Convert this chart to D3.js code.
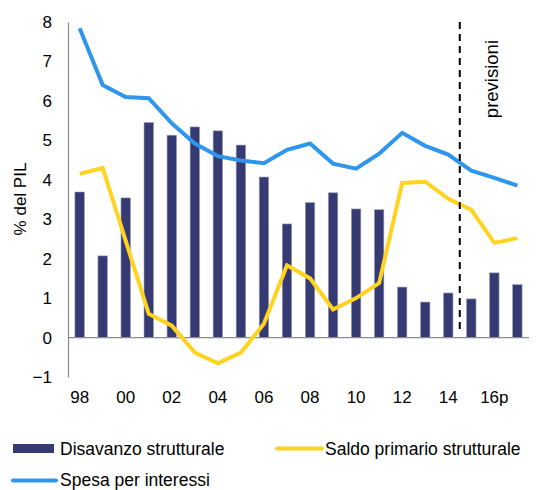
<!DOCTYPE html>
<html>
<head>
<meta charset="utf-8">
<script src="https://cdn.jsdelivr.net/npm/d3@7"></script>
<style>
  body { margin: 0; background: #fff; }
  text { font-family: "Liberation Sans", Arial, sans-serif; fill: #000; }
</style>
</head>
<body>
<svg id="chart" width="538" height="490"></svg>
<script>
const years = ['98','99','00','01','02','03','04','05','06','07','08','09','10','11','12','13','14','15','16','17'];
const tickLabels = {'98':'98','00':'00','02':'02','04':'04','06':'06','08':'08','10':'10','12':'12','14':'14','16':'16p'};
const disavanzo = [3.69,2.07,3.54,5.45,5.13,5.34,5.24,4.88,4.07,2.88,3.42,3.67,3.26,3.24,1.28,0.9,1.13,0.98,1.64,1.34];
const saldoPrimario = [4.15,4.3,2.45,0.6,0.3,-0.38,-0.65,-0.38,0.35,1.83,1.5,0.71,1.0,1.38,3.92,3.95,3.52,3.24,2.4,2.52];
const spesaInteressi = [7.84,6.4,6.1,6.07,5.43,4.92,4.6,4.49,4.42,4.76,4.92,4.41,4.28,4.66,5.19,4.86,4.64,4.23,4.05,3.85];
const yTicks = [-1,0,1,2,3,4,5,6,7,8];
const forecastStart = '15';

const svg = d3.select('#chart');
const mLeft = 68, mRight = 529, mTop = 22, mBottom = 377;

const x = d3.scaleBand().domain(years).range([mLeft, mRight]).paddingInner(0.59).paddingOuter(0.3);
const y = d3.scaleLinear().domain([-1, 8]).range([mBottom, mTop]);
const cx = d => x(d) + x.bandwidth() / 2;

// bars
svg.selectAll('rect.bar')
  .data(years)
  .enter().append('rect')
  .attr('class', 'bar')
  .attr('x', d => x(d))
  .attr('width', x.bandwidth())
  .attr('y', (d, i) => y(Math.max(0, disavanzo[i])))
  .attr('height', (d, i) => Math.abs(y(disavanzo[i]) - y(0)))
  .attr('fill', '#353b72')
  .attr('stroke', '#9a9cb8')
  .attr('stroke-width', 0.6);

// y axis
const yAxis = svg.append('g')
  .attr('transform', `translate(${mLeft},0)`)
  .call(d3.axisLeft(y).tickValues(yTicks).tickSize(0).tickPadding(16).tickFormat(d3.format('d')));
yAxis.select('.domain').attr('stroke', '#8c8c8c').attr('stroke-width', 1.2);
yAxis.selectAll('text').style('font-size', '17px');

// zero line
svg.append('line')
  .attr('x1', mLeft).attr('x2', mRight)
  .attr('y1', y(0)).attr('y2', y(0))
  .attr('stroke', '#8c8c8c').attr('stroke-width', 1.2);

// x labels
const xAxis = svg.append('g')
  .attr('transform', `translate(0,${mBottom})`)
  .call(d3.axisBottom(x).tickValues(Object.keys(tickLabels)).tickSize(0).tickPadding(14).tickFormat(d => tickLabels[d]));
xAxis.select('.domain').remove();
xAxis.selectAll('text').style('font-size', '17px');

// y title
svg.append('text')
  .attr('transform', 'translate(26,199) rotate(-90)')
  .attr('text-anchor', 'middle')
  .style('font-size', '17px')
  .text('% del PIL');

// lines
const lineGen = vals => d3.line().x((d, i) => cx(years[i])).y(d => y(d))(vals);
svg.append('path')
  .attr('d', lineGen(saldoPrimario))
  .attr('fill', 'none').attr('stroke', '#ffd320').attr('stroke-width', 4);
svg.append('path')
  .attr('d', lineGen(spesaInteressi))
  .attr('fill', 'none').attr('stroke', '#2f96ee').attr('stroke-width', 4);

// forecast divider
const fx = x(forecastStart) - x.step() * x.paddingInner() / 2;
svg.append('line')
  .attr('x1', fx).attr('x2', fx)
  .attr('y1', y(8)).attr('y2', y(0.1))
  .attr('stroke', '#000').attr('stroke-width', 2)
  .attr('stroke-dasharray', '7,5');
svg.append('text')
  .attr('transform', 'translate(498,40) rotate(-90)')
  .attr('text-anchor', 'end')
  .style('font-size', '18.5px')
  .text('previsioni');

// legend
const legend = svg.append('g').style('font-size', '17.5px');
legend.append('rect').attr('x', 13).attr('y', 444).attr('width', 41).attr('height', 9).attr('fill', '#353b72');
legend.append('text').attr('x', 60).attr('y', 455).text('Disavanzo strutturale');
legend.append('line').attr('x1', 277).attr('x2', 322).attr('y1', 448.5).attr('y2', 448.5)
  .attr('stroke', '#ffd320').attr('stroke-width', 4).attr('stroke-linecap', 'round');
legend.append('text').attr('x', 325).attr('y', 455).text('Saldo primario strutturale');
legend.append('line').attr('x1', 13).attr('x2', 56).attr('y1', 480.5).attr('y2', 480.5)
  .attr('stroke', '#2f96ee').attr('stroke-width', 4).attr('stroke-linecap', 'round');
legend.append('text').attr('x', 60).attr('y', 486).text('Spesa per interessi');
</script>
</body>
</html>
